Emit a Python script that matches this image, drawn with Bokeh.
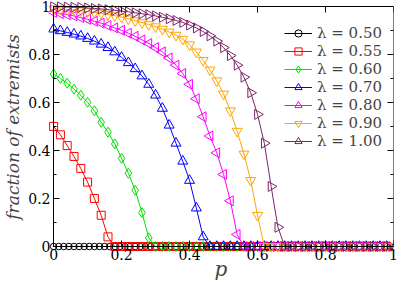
import math
from bokeh.plotting import figure
from bokeh.models import (Range1d, FixedTicker, LinearAxis, Legend, LegendItem,
                          CustomJSTickFormatter)
from bokeh.embed import file_html
from bokeh.resources import INLINE

# ---------------- data ----------------
p_coarse = [round(0.02 * i, 2) for i in range(50)]     # 0 .. 0.98
p_fine = [round(0.015 * i, 3) for i in range(67)]      # 0 .. 0.99

lam_050 = [0.0] * 67
lam_055_head = [0.50, 0.465, 0.42, 0.375, 0.325, 0.268, 0.20, 0.13, 0.04]
lam_060_head = [0.718, 0.70, 0.68, 0.655, 0.63, 0.60, 0.565, 0.517, 0.476, 0.427,
                0.367, 0.305, 0.234, 0.141, 0.036]
lam_070_head = [0.905, 0.898, 0.891, 0.884, 0.876, 0.866, 0.855, 0.842, 0.828, 0.81,
                0.787, 0.765, 0.74, 0.71, 0.675, 0.63, 0.575, 0.505, 0.43, 0.355,
                0.275, 0.16, 0.04]
lam_080_head = [0.975, 0.97, 0.965, 0.96, 0.953, 0.946, 0.938, 0.93, 0.92, 0.91,
                0.90, 0.888, 0.875, 0.86, 0.845, 0.828, 0.81, 0.785, 0.755, 0.72,
                0.675, 0.615, 0.54, 0.46, 0.39, 0.30, 0.19, 0.05]
lam_090_head = [0.99, 0.989, 0.987, 0.985, 0.982, 0.978, 0.975, 0.971, 0.966, 0.961,
                0.955, 0.948, 0.94, 0.932, 0.924, 0.915, 0.905, 0.893, 0.88, 0.863,
                0.84, 0.81, 0.775, 0.735, 0.69, 0.635, 0.565, 0.48, 0.385, 0.275, 0.13]
lam_100_head = [0.998, 0.998, 0.997, 0.996, 0.995, 0.993, 0.991, 0.989, 0.986, 0.983,
                0.98, 0.977, 0.973, 0.969, 0.965, 0.96, 0.954, 0.948, 0.941, 0.933,
                0.922, 0.91, 0.895, 0.877, 0.855, 0.828, 0.795, 0.755, 0.705, 0.64,
                0.55, 0.43, 0.25, 0.08]


def pad(head, n=50):
    return head + [0.0] * (n - len(head))


labels = ["λ = 0.50", "λ = 0.55", "λ = 0.60", "λ = 0.70", "λ = 0.80", "λ = 0.90", "λ = 1.00"]
colors = ["#000000", "#ff0000", "#00e000", "#0000ff", "#ff00ff", "#ffa500", "#7a2568"]
markers = ["circle", "square", "diamond", "triangle", "triangle", "inverted_triangle", "triangle"]
angles = [0, 0, 0, 0, math.pi / 2, 0, -math.pi / 2]
sizes = [6.5, 8, 10, 10, 10, 10, 10]

series = [
    (p_fine, lam_050),
    (p_coarse, pad(lam_055_head)),
    (p_coarse, pad(lam_060_head)),
    (p_coarse, pad(lam_070_head)),
    (p_coarse, pad(lam_080_head)),
    (p_coarse, pad(lam_090_head)),
    (p_coarse, pad(lam_100_head)),
]

xticks = [0, 0.2, 0.4, 0.6, 0.8, 1.0]
yticks = [0, 0.2, 0.4, 0.6, 0.8, 1.0]
yminor = [0.1, 0.3, 0.5, 0.7, 0.9]

SERIF = "DejaVu Serif"

p = figure(width=399, height=283, output_backend="svg", toolbar_location=None,
           x_range=Range1d(-0.015, 1.0), y_range=Range1d(-0.025, 1.02),
           min_border_left=43, min_border_right=6, min_border_top=1, min_border_bottom=29)
p.xgrid.visible = False
p.ygrid.visible = False
p.outline_line_color = None
p.background_fill_color = "white"
p.border_fill_color = "white"

items = []
for (xs, ys), lab, col, mk, ang, sz in zip(series, labels, colors, markers, angles, sizes):
    lr = p.line(xs, ys, line_color=col, line_width=1)
    sr = p.scatter(xs, ys, marker=mk, size=sz, angle=ang, line_color=col,
                   fill_color=None, line_width=1)
    items.append(LegendItem(label=lab, renderers=[lr, sr]))

fmt = CustomJSTickFormatter(code="""
if (Math.abs(tick) < 1e-9) return "0";
if (Math.abs(tick - 1) < 1e-9) return "1";
return tick.toFixed(1);
""")
blank = CustomJSTickFormatter(code="return '';")

# label-only axes at the plot edges
for ax in (p.xaxis[0], p.yaxis[0]):
    ax.formatter = fmt
    ax.bounds = (0, 1)
    ax.major_label_text_font = SERIF
    ax.major_label_text_font_size = "14px"
    ax.major_label_text_color = "black"
    ax.axis_line_color = None
    ax.major_tick_line_color = None
    ax.minor_tick_line_color = None
    ax.major_tick_in = 0
    ax.major_tick_out = 0
    ax.minor_tick_in = 0
    ax.minor_tick_out = 0
    ax.axis_label_text_font = SERIF
    ax.axis_label_text_font_style = "italic"

p.xaxis[0].ticker = FixedTicker(ticks=xticks, minor_ticks=[])
p.yaxis[0].ticker = FixedTicker(ticks=yticks, minor_ticks=[])
p.xaxis[0].major_label_standoff = -4
p.yaxis[0].major_label_standoff = -2
p.xaxis[0].axis_label = "p"
p.xaxis[0].axis_label_text_font_size = "20px"
p.xaxis[0].axis_label_standoff = -6
p.yaxis[0].axis_label = "fraction of extremists"
p.yaxis[0].axis_label_text_font_size = "17px"
p.yaxis[0].axis_label_standoff = 2


def line_axis(loc, ticks, minor):
    return LinearAxis(ticker=FixedTicker(ticks=ticks, minor_ticks=minor), formatter=blank,
                      fixed_location=loc, bounds=(0, 1),
                      major_tick_in=6, major_tick_out=0, minor_tick_in=3, minor_tick_out=0,
                      major_label_standoff=0, major_label_text_font_size="1px",
                      axis_line_color="black", axis_line_width=1)


p.add_layout(line_axis(0.0, xticks, []), "below")
p.add_layout(line_axis(0.0, yticks, yminor), "left")
p.add_layout(line_axis(1.0, yticks, yminor), "right")
p.add_layout(line_axis(1.0, xticks, []), "above")

legend = Legend(items=items, location=(233, 99), margin=0, padding=3,
                spacing=0, label_height=18, glyph_height=18, glyph_width=28,
                label_standoff=5, label_text_font=SERIF, label_text_font_size="15px",
                background_fill_alpha=0, border_line_alpha=0)
p.add_layout(legend)

open("out.html", "w").write(file_html(p, INLINE))
